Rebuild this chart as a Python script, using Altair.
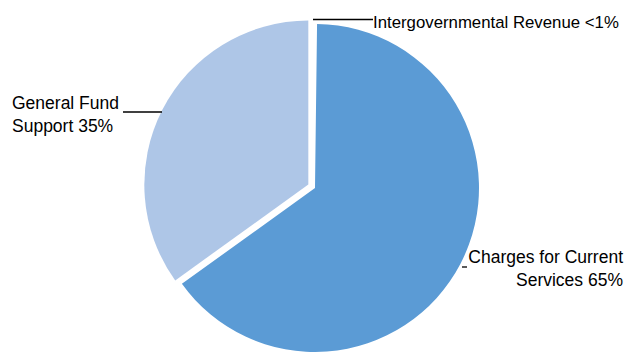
import altair as alt
import pandas as pd

# ---- data ----
categories = ["Intergovernmental Revenue", "Charges for Current Services", "General Fund Support"]
shares = [0.2, 65, 35]            # percent (Intergovernmental < 1%)
colors = ["#FFFFFF", "#5B9BD5", "#AEC6E7"]
label_texts = [
    ["Intergovernmental Revenue <1%"],
    ["Charges for Current", "Services 65%"],
    ["General Fund", "Support 35%"],
]

df = pd.DataFrame({"idx": list(range(len(categories))), "category": categories, "share": shares})

CX, CY, R = 307, 180, 164
EXPLODE = 7.5
FONT = "Liberation Sans, Arial"
FS = 17.5

pie = (
    alt.Chart(df)
    .transform_window(cum="sum(share)", sort=[alt.SortField("idx")], frame=[None, 0])
    .transform_joinaggregate(total="sum(share)")
    .transform_calculate(
        t0="2*PI*(datum.cum-datum.share)/datum.total",
        t1="2*PI*datum.cum/datum.total",
    )
    .transform_calculate(
        ex=f"datum.category == 'General Fund Support' ? {EXPLODE} : 0",
        mid="(datum.t0+datum.t1)/2",
    )
    .transform_calculate(
        cx=f"{CX} + datum.ex*sin(datum.mid)",
        cy=f"{CY} - datum.ex*cos(datum.mid)",
    )
    .mark_arc(radius=R, stroke=None)
    .encode(
        theta=alt.Theta("t0:Q", scale=None),
        theta2="t1:Q",
        x=alt.X("cx:Q", scale=None),
        y=alt.Y("cy:Q", scale=None),
        color=alt.Color("category:N", scale=alt.Scale(domain=categories, range=colors), legend=None),
    )
)

one = pd.DataFrame({"a": [0]})

def rule(x1, x2, y):
    return alt.Chart(one).mark_rule(color="black", strokeWidth=1.3).encode(
        x=alt.value(x1), x2=alt.value(x2), y=alt.value(y)
    )

def label(lines, x, y, align, fs=FS):
    return alt.Chart(one).mark_text(
        text=lines, align=align, baseline="alphabetic", font=FONT, fontSize=fs,
        lineHeight=23.5, color="black",
    ).encode(x=alt.value(x), y=alt.value(y))

chart = alt.layer(
    pie,
    rule(305, 365, 11.5),
    label(label_texts[0], 365, 19.5, "left", 16.8),
    rule(115, 154, 104),
    label(label_texts[2], 4, 100.5, "left"),
    rule(454, 459, 259),
    label(label_texts[1], 615, 254.5, "right"),
).properties(
    width=619, height=344, padding=0, autosize=alt.AutoSizeParams(type="none"),
    background="white",
).configure_view(stroke=None)

chart.save("out.html", embed_options={"renderer": "svg", "actions": False})
